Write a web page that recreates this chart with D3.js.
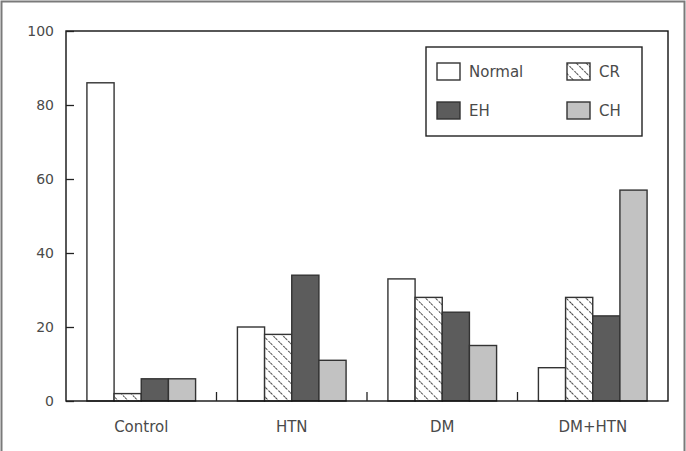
<!DOCTYPE html>
<html>
<head>
<meta charset="utf-8">
<script src="https://cdn.jsdelivr.net/npm/d3@7"></script>
<style>
  body { margin: 0; background: #fff; }
  svg text { font-family: "DejaVu Sans", sans-serif; fill: #4a4a4a; }
</style>
</head>
<body>
<svg id="chart" width="686" height="451"></svg>
<script>
// values
const groups = ['Control', 'HTN', 'DM', 'DM+HTN'];
const seriesNames = ['Normal', 'CR', 'EH', 'CH'];
const normal = [86, 20, 33, 9];
const cr = [2, 18, 28, 28];
const eh = [6, 34, 24, 23];
const ch = [6, 11, 15, 57];
const yTicks = [0, 20, 40, 60, 80, 100];

const seriesValues = [normal, cr, eh, ch];
const fills = {
  Normal: '#ffffff', CR: 'url(#hatch)', EH: '#5c5c5c', CH: '#c2c2c2',
};

const svg = d3.select('#chart');
const margin = { top: 31, right: 18, bottom: 50, left: 66 };
const width = 686 - margin.left - margin.right;
const height = 451 - margin.top - margin.bottom;

// hatch for CR: dotted diagonal strokes going down to the right
const defs = svg.append('defs');
const pat = defs.append('pattern')
  .attr('id', 'hatch')
  .attr('patternUnits', 'userSpaceOnUse')
  .attr('width', 7)
  .attr('height', 7)
  .attr('patternTransform', 'rotate(45)');
pat.append('rect').attr('width', 7).attr('height', 7).attr('fill', '#fff');
pat.append('line')
  .attr('x1', 0).attr('y1', 0).attr('x2', 7).attr('y2', 0)
  .attr('stroke', '#444')
  .attr('stroke-width', 2.2)
  .attr('stroke-dasharray', '2.5 1.5');

// outer frame
svg.append('rect')
  .attr('x', 1.5).attr('y', 1.5)
  .attr('width', 683).attr('height', 452)
  .attr('fill', 'none')
  .attr('stroke', '#7a7a7a')
  .attr('stroke-width', 2);

const g = svg.append('g').attr('transform', `translate(${margin.left},${margin.top})`);

const x0 = d3.scaleBand().domain(groups).range([0, width]);
const x1 = d3.scaleBand().domain(seriesNames)
  .range([0, x0.bandwidth()])
  .paddingOuter(0.77);
const y = d3.scaleLinear().domain([0, 100]).range([height, 0]);

// bars
const rows = groups.map((grp, i) => ({
  grp,
  vals: seriesNames.map((s, j) => ({ s, v: seriesValues[j][i] })),
}));

g.selectAll('g.grp')
  .data(rows)
  .join('g')
  .attr('class', 'grp')
  .attr('transform', (d) => `translate(${x0(d.grp)},0)`)
  .selectAll('rect')
  .data((d) => d.vals)
  .join('rect')
  .attr('x', (d) => x1(d.s))
  .attr('y', (d) => y(d.v))
  .attr('width', x1.bandwidth())
  .attr('height', (d) => height - y(d.v))
  .attr('fill', (d) => fills[d.s])
  .attr('stroke', '#333')
  .attr('stroke-width', 1.4);

// plot frame
g.append('rect')
  .attr('width', width)
  .attr('height', height)
  .attr('fill', 'none')
  .attr('stroke', '#111')
  .attr('stroke-width', 1.4);

// y axis, ticks pointing inward
const yAxis = g.append('g')
  .call(d3.axisLeft(y).tickValues(yTicks).tickSize(-8).tickPadding(12));
yAxis.select('.domain').remove();
yAxis.selectAll('line').attr('stroke', '#222').attr('stroke-width', 1.3);
yAxis.selectAll('text').style('font-size', '14px').attr('fill', '#4a4a4a');

// x axis: labels at group centres, small separators between groups
const xAxis = g.append('g')
  .attr('transform', `translate(0,${height})`)
  .call(d3.axisBottom(x0).tickSize(0).tickPadding(20));
xAxis.select('.domain').remove();
xAxis.selectAll('text').style('font-size', '15px').attr('fill', '#4a4a4a');

g.selectAll('line.sep')
  .data(groups.slice(1))
  .join('line')
  .attr('class', 'sep')
  .attr('x1', (d) => x0(d))
  .attr('x2', (d) => x0(d))
  .attr('y1', height)
  .attr('y2', height - 9)
  .attr('stroke', '#222')
  .attr('stroke-width', 1.3);

// legend
const legend = svg.append('g').attr('transform', 'translate(426,47)');
legend.append('rect')
  .attr('width', 216)
  .attr('height', 89)
  .attr('fill', '#fff')
  .attr('stroke', '#222')
  .attr('stroke-width', 1.4);

seriesNames.forEach((s, i) => {
  const col = i % 2;
  const row = Math.floor(i / 2);
  const item = legend.append('g')
    .attr('transform', `translate(${11 + col * 130},${16 + row * 39})`);
  item.append('rect')
    .attr('width', 23)
    .attr('height', 17)
    .attr('fill', fills[s])
    .attr('stroke', '#333')
    .attr('stroke-width', 1.4);
  item.append('text')
    .attr('x', 32)
    .attr('y', 14)
    .style('font-size', '15px')
    .text(s);
});
</script>
</body>
</html>
